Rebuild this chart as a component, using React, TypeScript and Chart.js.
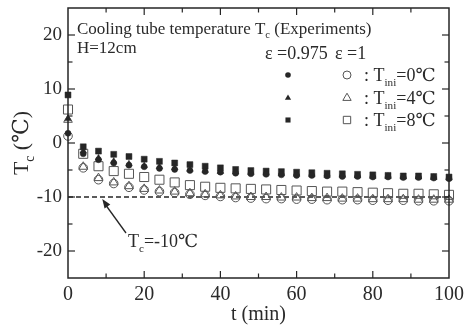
import React, { useEffect, useRef } from 'react';
import { Chart, registerables } from 'chart.js';

Chart.register(...registerables);

const FONT = "'Liberation Serif', 'Times New Roman', 'DejaVu Serif', serif";
const INK = '#262626';
const OPEN = '#555555';

// time (min)
const times = [0, 4, 8, 12, 16, 20, 24, 28, 32, 36, 40, 44, 48, 52, 56, 60, 64, 68, 72, 76, 80, 84, 88, 92, 96, 100];
// epsilon = 0.975 (filled markers)
const eps0975_Tini0 = [1.8, -2.0, -3.1, -3.7, -4.1, -4.4, -4.7, -4.9, -5.1, -5.3, -5.4, -5.6, -5.7, -5.8, -5.9, -6.0, -6.0, -6.1, -6.2, -6.2, -6.3, -6.3, -6.4, -6.4, -6.5, -6.6];
const eps0975_Tini4 = [4.5, -1.5, -2.8, -3.4, -3.9, -4.2, -4.4, -4.6, -4.9, -5.1, -5.3, -5.4, -5.5, -5.6, -5.7, -5.8, -5.9, -6.0, -6.0, -6.1, -6.2, -6.2, -6.3, -6.3, -6.4, -6.5];
const eps0975_Tini8 = [8.9, -0.7, -1.5, -2.1, -2.5, -3.0, -3.4, -3.7, -4.0, -4.3, -4.6, -4.9, -5.1, -5.2, -5.3, -5.4, -5.5, -5.6, -5.7, -5.8, -5.9, -6.0, -6.1, -6.1, -6.2, -6.3];
// epsilon = 1 (open markers)
const eps1_Tini0 = [1.3, -4.6, -6.8, -7.5, -8.2, -8.7, -9.0, -9.2, -9.5, -9.7, -9.9, -10.1, -10.2, -10.3, -10.3, -10.4, -10.4, -10.5, -10.5, -10.5, -10.6, -10.6, -10.6, -10.7, -10.7, -10.7];
const eps1_Tini4 = [4.3, -4.4, -6.5, -7.3, -8.0, -8.5, -8.8, -9.0, -9.3, -9.5, -9.7, -9.9, -10.0, -10.0, -10.1, -10.1, -10.2, -10.2, -10.3, -10.3, -10.4, -10.4, -10.4, -10.5, -10.5, -10.5];
const eps1_Tini8 = [6.2, -2.0, -4.3, -5.2, -5.7, -6.3, -6.8, -7.3, -7.8, -8.1, -8.3, -8.4, -8.5, -8.6, -8.7, -8.8, -8.9, -9.0, -9.0, -9.1, -9.2, -9.3, -9.4, -9.4, -9.5, -9.6];

const refTemp = -10;
const xTickValues = [0, 20, 40, 60, 80, 100];
const yTickValues = [-20, -10, 0, 10, 20];
const xMinorStep = 10;
const yMinorStep = 5;
const legendLabels = ['0', '4', '8'];

type Part = { t: string; sub?: boolean };

function partsWidth(ctx: CanvasRenderingContext2D, parts: Part[], size: number) {
  let w = 0;
  for (const p of parts) {
    ctx.font = `${p.sub ? size * 0.62 : size}px ${FONT}`;
    w += ctx.measureText(p.t).width;
  }
  return w;
}

function drawParts(ctx: CanvasRenderingContext2D, parts: Part[], x: number, y: number, size: number, align: 'left' | 'center' = 'left') {
  const w = partsWidth(ctx, parts, size);
  let cx = align === 'center' ? x - w / 2 : x;
  ctx.textAlign = 'left';
  ctx.textBaseline = 'alphabetic';
  for (const p of parts) {
    ctx.font = `${p.sub ? size * 0.62 : size}px ${FONT}`;
    ctx.fillText(p.t, cx, p.sub ? y + size * 0.25 : y);
    cx += ctx.measureText(p.t).width;
  }
}

function drawMarker(ctx: CanvasRenderingContext2D, style: string, x: number, y: number, r: number, filled: boolean) {
  ctx.beginPath();
  if (style === 'circle') {
    ctx.arc(x, y, r, 0, Math.PI * 2);
  } else if (style === 'triangle') {
    for (let k = 0; k < 3; k++) {
      const a = (k * 2 * Math.PI) / 3;
      const px = x + Math.sin(a) * r;
      const py = y - Math.cos(a) * r;
      if (k === 0) ctx.moveTo(px, py);
      else ctx.lineTo(px, py);
    }
    ctx.closePath();
  } else {
    const s = r * Math.SQRT1_2;
    ctx.rect(x - s, y - s, 2 * s, 2 * s);
  }
  if (filled) {
    ctx.fillStyle = INK;
    ctx.fill();
  } else {
    ctx.strokeStyle = OPEN;
    ctx.lineWidth = 1;
    ctx.stroke();
  }
}

const decorPlugin = {
  id: 'decor',
  afterDraw(chart: any) {
    const { ctx, chartArea: a, scales } = chart;
    const xs = scales.x;
    const ys = scales.y;
    ctx.save();
    // frame
    ctx.strokeStyle = INK;
    ctx.lineWidth = 1.5;
    ctx.strokeRect(a.left, a.top, a.right - a.left, a.bottom - a.top);
    // inward ticks
    ctx.lineWidth = 1.2;
    const seg = (x1: number, y1: number, x2: number, y2: number) => {
      ctx.beginPath();
      ctx.moveTo(x1, y1);
      ctx.lineTo(x2, y2);
      ctx.stroke();
    };
    for (let v = xs.min + xMinorStep; v < xs.max; v += xMinorStep) {
      const px = xs.getPixelForValue(v);
      const len = xTickValues.includes(v) ? 7 : 4.5;
      seg(px, a.bottom, px, a.bottom - len);
      seg(px, a.top, px, a.top + len);
    }
    for (let v = ys.min + yMinorStep; v < ys.max; v += yMinorStep) {
      const py = ys.getPixelForValue(v);
      const len = yTickValues.includes(v) ? 7 : 4.5;
      seg(a.left, py, a.left + len, py);
      seg(a.right, py, a.right - len, py);
    }

    ctx.fillStyle = '#2a2a2a';
    // annotation texts
    drawParts(ctx, [{ t: 'Cooling tube temperature T' }, { t: 'c', sub: true }, { t: ' (Experiments)' }], 77, 34, 17);
    drawParts(ctx, [{ t: 'H=12cm' }], 77, 53, 17);
    drawParts(ctx, [{ t: 'ε =0.975' }], 265, 59, 18);
    drawParts(ctx, [{ t: 'ε =1' }], 335, 59, 18);

    // legend
    const rows = [75, 98, 120];
    const styles = ['circle', 'triangle', 'rect'];
    const fr = [2.8, 3.6, 3.6];
    const orr = [4, 4.8, 5.2];
    rows.forEach((ry, i) => {
      drawMarker(ctx, styles[i], 288, ry, fr[i], true);
      drawMarker(ctx, styles[i], 347, ry, orr[i], false);
      ctx.fillStyle = '#2a2a2a';
      drawParts(ctx, [{ t: ': T' }, { t: 'ini', sub: true }, { t: '=' + legendLabels[i] + '℃' }], 364, ry + 6, 18);
    });

    // reference label and arrow
    drawParts(ctx, [{ t: 'T' }, { t: 'c', sub: true }, { t: '=-10℃' }], 128, 247, 18);
    const ax = xs.getPixelForValue(9);
    const ay = ys.getPixelForValue(refTemp) + 2;
    const bx = 126;
    const by = 233;
    ctx.strokeStyle = INK;
    ctx.lineWidth = 1.3;
    seg(bx, by, ax + 2, ay + 4);
    const ang = Math.atan2(ay - by, ax - bx);
    const hl = 9;
    const hw = 3.5;
    ctx.beginPath();
    ctx.moveTo(ax, ay);
    ctx.lineTo(ax - hl * Math.cos(ang) + hw * Math.sin(ang), ay - hl * Math.sin(ang) - hw * Math.cos(ang));
    ctx.lineTo(ax - hl * Math.cos(ang) - hw * Math.sin(ang), ay - hl * Math.sin(ang) + hw * Math.cos(ang));
    ctx.closePath();
    ctx.fillStyle = INK;
    ctx.fill();

    // axis titles
    ctx.fillStyle = '#2a2a2a';
    drawParts(ctx, [{ t: 't (min)' }], (a.left + a.right) / 2, 320, 20, 'center');
    ctx.save();
    ctx.translate(28, (a.top + a.bottom) / 2);
    ctx.rotate(-Math.PI / 2);
    drawParts(ctx, [{ t: 'T' }, { t: 'c', sub: true }, { t: ' (℃)' }], 0, 0, 22, 'center');
    ctx.restore();

    ctx.restore();
  },
};

function pts(arr: number[]) {
  return times.map((t, i) => ({ x: t, y: arr[i] }));
}

export default function App() {
  const ref = useRef<HTMLCanvasElement | null>(null);
  useEffect(() => {
    if (!ref.current) return;
    const filled = (style: string, r: number) => ({
      pointStyle: style,
      pointRadius: r,
      pointBackgroundColor: INK,
      pointBorderColor: INK,
      pointBorderWidth: 0.5,
      showLine: false,
      clip: false,
    });
    const open = (style: string, r: number) => ({
      pointStyle: style,
      pointRadius: r,
      pointBackgroundColor: 'rgba(0,0,0,0)',
      pointBorderColor: OPEN,
      pointBorderWidth: 1,
      showLine: false,
      clip: false,
    });
    const chart = new Chart(ref.current, {
      type: 'scatter',
      data: {
        datasets: [
          { label: 'ε=0.975 Tini=0', data: pts(eps0975_Tini0), ...filled('circle', 3) },
          { label: 'ε=0.975 Tini=4', data: pts(eps0975_Tini4), ...filled('triangle', 3.8) },
          { label: 'ε=0.975 Tini=8', data: pts(eps0975_Tini8), ...filled('rect', 4.2) },
          { label: 'ε=1 Tini=0', data: pts(eps1_Tini0), ...open('circle', 4.3) },
          { label: 'ε=1 Tini=4', data: pts(eps1_Tini4), ...open('triangle', 5) },
          { label: 'ε=1 Tini=8', data: pts(eps1_Tini8), ...open('rect', 6.4) },
          {
            label: 'Tc=-10',
            data: [
              { x: 0, y: refTemp },
              { x: 100, y: refTemp },
            ],
            showLine: true,
            borderColor: INK,
            borderWidth: 1.6,
            borderDash: [5, 3],
            pointRadius: 0,
          },
        ] as any,
      },
      options: {
        animation: false,
        responsive: false,
        layout: { padding: { top: 8, right: 16, left: 0, bottom: 0 } },
        plugins: { legend: { display: false }, tooltip: { enabled: false } },
        scales: {
          x: {
            type: 'linear',
            min: 0,
            max: 100,
            afterBuildTicks: (s: any) => {
              s.ticks = xTickValues.map((v) => ({ value: v }));
            },
            afterFit: (s: any) => {
              s.height = 55;
              s.paddingLeft = 0;
              s.paddingRight = 0;
            },
            grid: { display: false, drawTicks: false },
            border: { display: false },
            ticks: { font: { family: FONT, size: 20 }, color: '#2a2a2a', padding: 5, maxRotation: 0, autoSkip: false },
          },
          y: {
            type: 'linear',
            min: -25,
            max: 25,
            afterBuildTicks: (s: any) => {
              s.ticks = yTickValues.map((v) => ({ value: v }));
            },
            afterFit: (s: any) => {
              s.width = 68;
              s.paddingTop = 0;
              s.paddingBottom = 0;
            },
            grid: { display: false, drawTicks: false },
            border: { display: false },
            ticks: { font: { family: FONT, size: 19 }, color: '#2a2a2a', padding: 6, autoSkip: false },
          },
        },
      } as any,
      plugins: [decorPlugin],
    });
    return () => chart.destroy();
  }, []);
  return (
    <div style={{ position: 'absolute', left: 0, top: 0, width: 465, height: 333, background: '#fff' }}>
      <canvas ref={ref} width={465} height={333} style={{ display: 'block' }} />
    </div>
  );
}
